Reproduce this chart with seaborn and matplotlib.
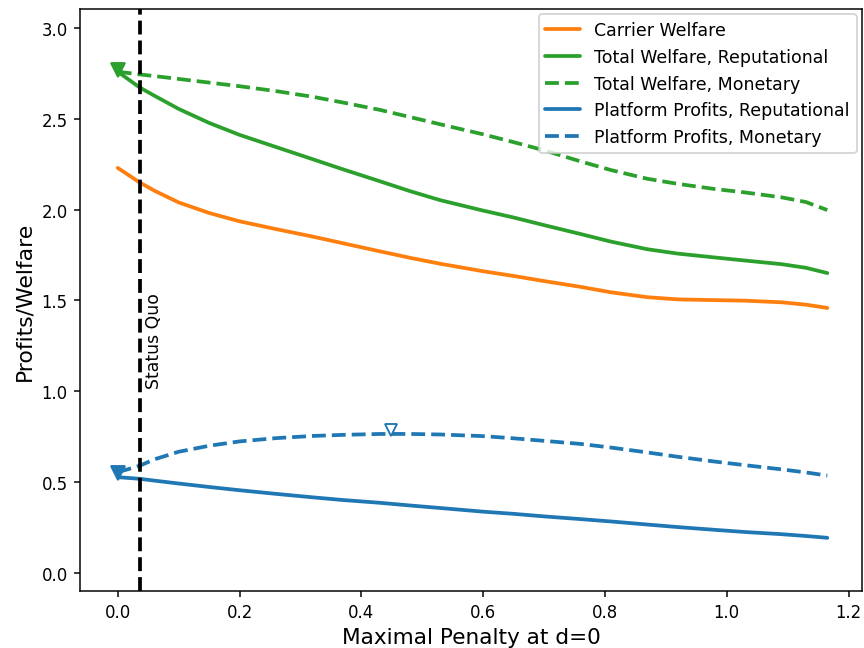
import numpy as np
import pandas as pd
import matplotlib
matplotlib.use("Agg")
import matplotlib.pyplot as plt
import seaborn as sns

sns.set_style("ticks", {
    "axes.edgecolor": "black",
    "xtick.color": "black",
    "ytick.color": "black",
    "text.color": "black",
    "axes.labelcolor": "black",
})
plt.rcParams["font.family"] = ["DejaVu Sans"]

# Penalty grid and welfare/profit curves
penalty = [0.0, 0.036, 0.06, 0.1, 0.15, 0.2, 0.26, 0.32, 0.37, 0.43, 0.48, 0.53,
           0.6, 0.65, 0.7, 0.76, 0.81, 0.87, 0.92, 0.98, 1.03, 1.09, 1.13, 1.165]
carrier_welfare = [2.23, 2.15, 2.105, 2.04, 1.982, 1.936, 1.893, 1.852, 1.815, 1.771, 1.735, 1.702,
                   1.661, 1.635, 1.607, 1.575, 1.545, 1.518, 1.506, 1.502, 1.499, 1.49, 1.477, 1.459]
total_rep = [2.76, 2.673, 2.628, 2.555, 2.478, 2.412, 2.345, 2.278, 2.222, 2.157, 2.102, 2.052,
             1.995, 1.957, 1.915, 1.866, 1.824, 1.782, 1.758, 1.737, 1.72, 1.70, 1.68, 1.651]
total_mon = [2.76, 2.745, 2.736, 2.72, 2.70, 2.68, 2.653, 2.622, 2.59, 2.55, 2.51, 2.47,
             2.415, 2.372, 2.327, 2.266, 2.218, 2.17, 2.142, 2.114, 2.095, 2.068, 2.042, 1.998]
platform_rep = [0.527, 0.518, 0.508, 0.492, 0.473, 0.455, 0.435, 0.416, 0.401, 0.386, 0.371, 0.357,
                0.337, 0.325, 0.311, 0.296, 0.283, 0.266, 0.252, 0.237, 0.225, 0.213, 0.203, 0.193]
platform_mon = [0.554, 0.59, 0.625, 0.667, 0.70, 0.724, 0.742, 0.754, 0.76, 0.765, 0.765, 0.762,
                0.753, 0.741, 0.727, 0.71, 0.69, 0.663, 0.639, 0.613, 0.593, 0.57, 0.553, 0.536]

status_quo = 0.036
start_points_x = [0.0, 0.0]
start_points_y = [2.77, 0.55]
start_colors = ["tab:green", "tab:blue"]
peak_x = [0.449]
peak_y = [0.785]

fig = plt.figure(figsize=(6.4, 4.807), dpi=135)
ax = fig.add_axes([0.0926, 0.0878, 0.9051, 0.8968])

lw = 2
sns.lineplot(x=penalty, y=carrier_welfare, color="tab:orange", lw=lw, ax=ax, label="Carrier Welfare")
sns.lineplot(x=penalty, y=total_rep, color="tab:green", lw=lw, ax=ax, label="Total Welfare, Reputational")
sns.lineplot(x=penalty, y=total_mon, color="tab:green", lw=lw, ls="--", ax=ax, label="Total Welfare, Monetary")
sns.lineplot(x=penalty, y=platform_rep, color="tab:blue", lw=lw, ax=ax, label="Platform Profits, Reputational")
sns.lineplot(x=penalty, y=platform_mon, color="tab:blue", lw=lw, ls="--", ax=ax, label="Platform Profits, Monetary")

for xv, yv, c in zip(start_points_x, start_points_y, start_colors):
    ax.plot([xv], [yv], marker="v", color=c, markersize=7, ls="none")
ax.plot(peak_x, peak_y, marker="v", mfc="white", mec="tab:blue", markersize=6, ls="none")

ax.axvline(status_quo, color="black", ls="--", lw=2)
ax.text(status_quo + 0.009, 1.02, "Status Quo", rotation=90, fontsize=9.2, va="bottom", ha="left")

ax.set_xlim(-0.062, 1.222)
ax.set_ylim(-0.1, 3.105)
ax.set_xlabel("Maximal Penalty at d=0", fontsize=11.5, labelpad=3)
ax.set_ylabel("Profits/Welfare", fontsize=11.7, labelpad=4)
ax.tick_params(labelsize=8.8, length=3, width=0.8)
ax.legend(loc="upper right", fontsize=9.3, borderaxespad=0.3)

fig.savefig("out.png", dpi=135)
